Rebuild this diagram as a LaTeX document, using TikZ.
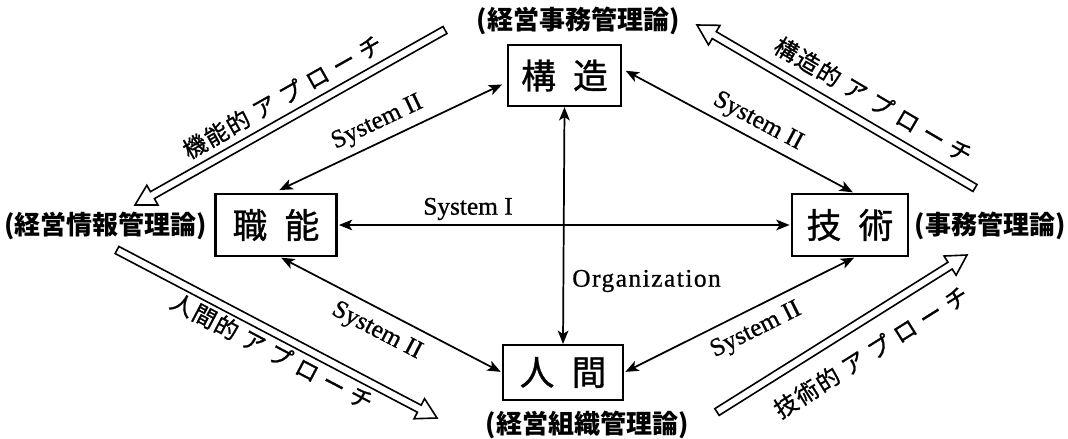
\documentclass[tikz,border=0pt]{standalone}
\usepackage{fontspec}
\newfontfamily\jp{Noto Sans CJK JP}
\newfontfamily\jpm[FakeBold=1]{Noto Sans CJK JP}
\newfontfamily\lat[FakeBold=0.8]{Liberation Serif}
\newfontfamily\latsp[FakeBold=0.8,LetterSpace=6]{Liberation Serif}
\usetikzlibrary{arrows.meta,calc}
\newcommand\jpgap{\hspace{0.3em}}
\newcommand\kgap{\hspace{0.06em}}
\newcommand\hollowarr[2]{%
  \coordinate (#2-b) at ($(#2)!15pt!(#1)$);
  \draw[hollow] ($(#1)!3pt!90:(#2)$) -- ($(#2-b)!3pt!90:(#2)$) -- ($(#2-b)!8.5pt!90:(#2)$)
    -- (#2) -- ($(#2-b)!8.5pt!-90:(#2)$) -- ($(#2-b)!3pt!-90:(#2)$) -- ($(#1)!3pt!-90:(#2)$) -- cycle;}
\begin{document}
\begin{tikzpicture}[x=0.75pt,y=-0.75pt,
  box/.style={draw, line width=1.6pt, inner sep=0pt, font=\jpm\fontsize{26}{28}\selectfont},
  paren/.style={font=\jp\bfseries\fontsize{19.5}{22}\selectfont, inner sep=0pt},
  conn/.style={line width=1.3pt, {Stealth[length=10pt,width=8pt,inset=2.5pt]}-{Stealth[length=10pt,width=8pt,inset=2.5pt]}},
  lbl/.style={font=\lat\fontsize{19}{21}\selectfont, inner sep=0pt},
  appr/.style={font=\jpm\fontsize{17.5}{19}\selectfont, inner sep=0pt},
  hollow/.style={draw, line width=1.2pt, line join=miter, fill=white}
]
\useasboundingbox (0,0) rectangle (1068,439);

% boxes
\node[box, minimum width=84.75pt, minimum height=45.75pt] (kozo) at (564.5,75.5) {構\hspace{0.5em}造};
\node[box, minimum width=90.75pt, minimum height=46.5pt] (shokuno) at (276,225) {職\hspace{0.5em}能};
\node[box, minimum width=87pt, minimum height=46.5pt] (gijutsu) at (850,225) {技\hspace{0.5em}術};
\node[box, minimum width=90pt, minimum height=41.25pt] (ningen) at (563,372.5) {人\hspace{0.5em}間};

% parenthetical labels
\node[paren] (pt) at (578,21) {(経営事務管理論)};
\node[paren] (pl) at (106,226) {(経営情報管理論)};
\node[paren] (pr) at (990,226) {(事務管理論)};
\node[paren] (pb) at (587,425) {(経営組織管理論)};

% connectors
\draw[conn, shorten <=5pt, shorten >=4pt] ([xshift=-2pt]shokuno.north) -- ([yshift=-5pt]kozo.west)
  node[lbl, pos=0.48, sloped, above=5pt] (s1) {System II};
\draw[conn, shorten <=3pt, shorten >=1pt] ([yshift=5pt]kozo.east) -- ([xshift=3pt]gijutsu.north)
  node[lbl, pos=0.55, sloped, above=4pt] (s2) {System II};
\draw[conn, shorten <=1pt, shorten >=1pt] ([xshift=3pt]shokuno.south) -- (ningen.west)
  node[lbl, pos=0.48, sloped, below=7pt] (s3) {System II};
\draw[conn, shorten <=1pt, shorten >=1pt] ([xshift=4pt]gijutsu.south) -- (ningen.east)
  node[lbl, pos=0.47, sloped, below=7pt] (s4) {System II};
\draw[conn, shorten <=1pt, shorten >=1pt] (shokuno.east) -- (gijutsu.west);
\node[lbl] (s5) at (468,209) {System I};
\draw[conn] (kozo.south) -- (ningen.north);
\node[lbl, font=\latsp\fontsize{19}{21}\selectfont, anchor=west] (org) at (572,281) {Organization};

% hollow arrows
\coordinate (a1t) at (445,30);  \coordinate (a1h) at (135,205);
\coordinate (a2t) at (975,188); \coordinate (a2h) at (697,25);
\coordinate (a3t) at (117,250); \coordinate (a3h) at (437,418);
\coordinate (a4t) at (717,412); \coordinate (a4h) at (967,255);
\hollowarr{a1t}{a1h}
\hollowarr{a2t}{a2h}
\hollowarr{a3t}{a3h}
\hollowarr{a4t}{a4h}
\path (a1t) -- (a1h) node[appr, pos=0.49, sloped, above=8pt] (l1) {機\kgap 能\kgap 的\jpgap ア\jpgap プ\jpgap ロ\jpgap ー\jpgap チ};
\path (a2t) -- (a2h) node[appr, pos=0.41, sloped, above=10pt] (l2) {構\kgap 造\kgap 的\jpgap ア\jpgap プ\jpgap ロ\jpgap ー\jpgap チ};
\path (a3t) -- (a3h) node[appr, pos=0.51, sloped, below=5pt] (l3) {人\kgap 間\kgap 的\jpgap ア\jpgap プ\jpgap ロ\jpgap ー\jpgap チ};
\path (a4t) -- (a4h) node[appr, pos=0.55, sloped, below=15pt] (l4) {技\kgap 術\kgap 的\jpgap ア\jpgap プ\jpgap ロ\jpgap ー\jpgap チ};
\end{tikzpicture}
\end{document}
